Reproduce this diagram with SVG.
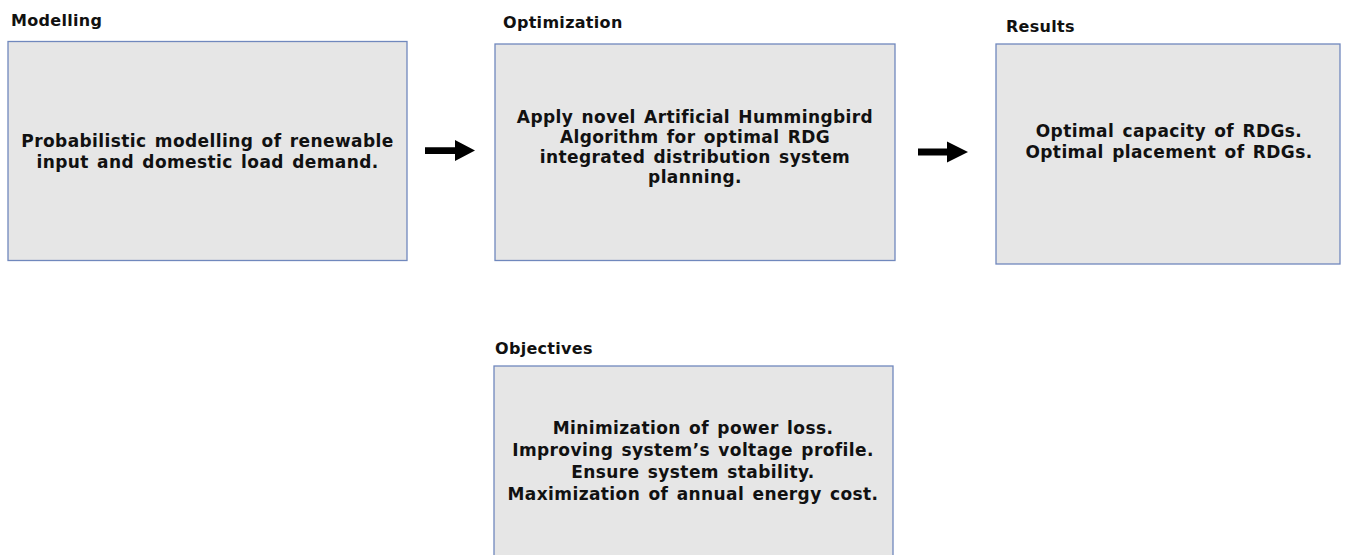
<svg xmlns="http://www.w3.org/2000/svg" width="1347" height="555" viewBox="0 0 1347 555">
<defs>
<style>
.box{fill:#e6e6e6;stroke:#7088bd;stroke-width:1.3}
.lbl{font-family:"DejaVu Sans",Verdana,sans-serif;font-weight:bold;font-size:16px;letter-spacing:0.3px;fill:#111}
.txt{font-family:"DejaVu Sans",Verdana,sans-serif;font-weight:bold;font-size:17px;letter-spacing:0.4px;word-spacing:2px;fill:#111;text-anchor:middle}
.arr{fill:#000}
</style>
</defs>
<rect width="1347" height="555" fill="#fff"/>
<g id="modelling">
<text class="lbl" x="11" y="26">Modelling</text>
<rect class="box" x="8" y="41.5" width="399" height="219"/>
<text class="txt" x="207.5" y="147">Probabilistic modelling of renewable</text>
<text class="txt" x="207.5" y="168">input and domestic load demand.</text>
</g>
<g id="optimization">
<text class="lbl" x="503" y="28">Optimization</text>
<rect class="box" x="495" y="44" width="400" height="216.5"/>
<text class="txt" x="695" y="123">Apply novel Artificial Hummingbird</text>
<text class="txt" x="695" y="143">Algorithm for optimal RDG</text>
<text class="txt" x="695" y="163">integrated distribution system</text>
<text class="txt" x="695" y="183">planning.</text>
</g>
<g id="results">
<text class="lbl" x="1006" y="32">Results</text>
<rect class="box" x="996" y="44" width="344" height="220"/>
<text class="txt" x="1169" y="137">Optimal capacity of RDGs.</text>
<text class="txt" x="1169" y="158">Optimal placement of RDGs.</text>
</g>
<g id="objectives">
<text class="lbl" x="495" y="354">Objectives</text>
<rect class="box" x="494" y="366" width="399" height="200"/>
<text class="txt" x="693" y="434">Minimization of power loss.</text>
<text class="txt" x="693" y="456">Improving system’s voltage profile.</text>
<text class="txt" x="693" y="478">Ensure system stability.</text>
<text class="txt" x="693" y="500">Maximization of annual energy cost.</text>
</g>
<g id="connectors">
<polygon class="arr" points="425,147.3 455,147.3 455,140 475,150.5 455,161 455,154 425,154"/>
<polygon class="arr" points="918,148.5 947,148.5 947,141.5 968,152 947,162.5 947,155.5 918,155.5"/>
</g>
</svg>
